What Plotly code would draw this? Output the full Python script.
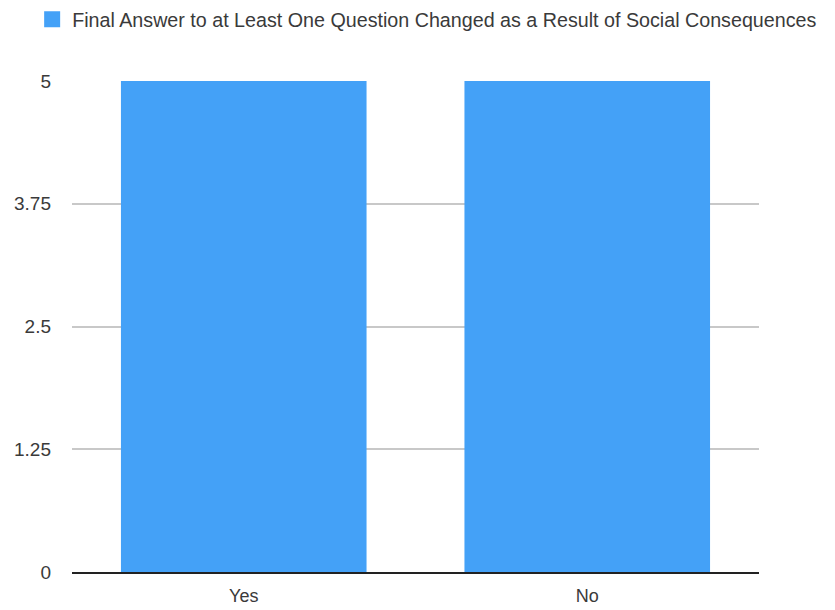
import plotly.graph_objects as go

categories = ["Yes", "No"]
counts = [5, 5]
series_name = "Final Answer to at Least One Question Changed as a Result of Social Consequences"
y_ticks = [0, 1.25, 2.5, 3.75, 5]
y_tick_labels = ["0", "1.25", "2.5", "3.75", "5"]
bar_color = "#44A1F7"

fig = go.Figure()
fig.add_trace(
    go.Bar(
        x=categories,
        y=counts,
        name=series_name,
        marker=dict(color=bar_color, line=dict(width=0)),
        showlegend=False,
        legendgroup="s",
    )
)
# legend key drawn as a larger square swatch
fig.add_trace(
    go.Scatter(
        x=[None],
        y=[None],
        mode="markers",
        name=series_name,
        marker=dict(symbol="square", size=16, color=bar_color),
        legendgroup="s",
        showlegend=True,
        hoverinfo="skip",
    )
)

fig.update_layout(
    width=835,
    height=610,
    margin=dict(l=72, r=76, t=81, b=38, autoexpand=False),
    paper_bgcolor="white",
    plot_bgcolor="white",
    bargap=0.285,
    font=dict(family="Liberation Sans, Arial, sans-serif", size=18, color="#3a3a3a"),
    legend=dict(
        orientation="h",
        x=-0.058,
        xanchor="left",
        yref="container",
        y=1.0,
        yanchor="top",
        font=dict(size=19.7, color="#3a3a3a"),
        bgcolor="rgba(0,0,0,0)",
    ),
)

fig.update_yaxes(
    range=[0, 5],
    tickvals=y_ticks,
    ticktext=y_tick_labels,
    showgrid=True,
    gridcolor="#C8C8C8",
    gridwidth=1.5,
    zeroline=False,
    showline=False,
    ticks="",
    ticklabelstandoff=20,
    tickfont=dict(size=19),
    automargin=False,
)

fig.update_xaxes(
    showline=True,
    linecolor="#222222",
    linewidth=2,
    ticks="",
    ticklabelstandoff=6,
    tickfont=dict(size=18),
    automargin=False,
)

fig.write_html("out.html")
